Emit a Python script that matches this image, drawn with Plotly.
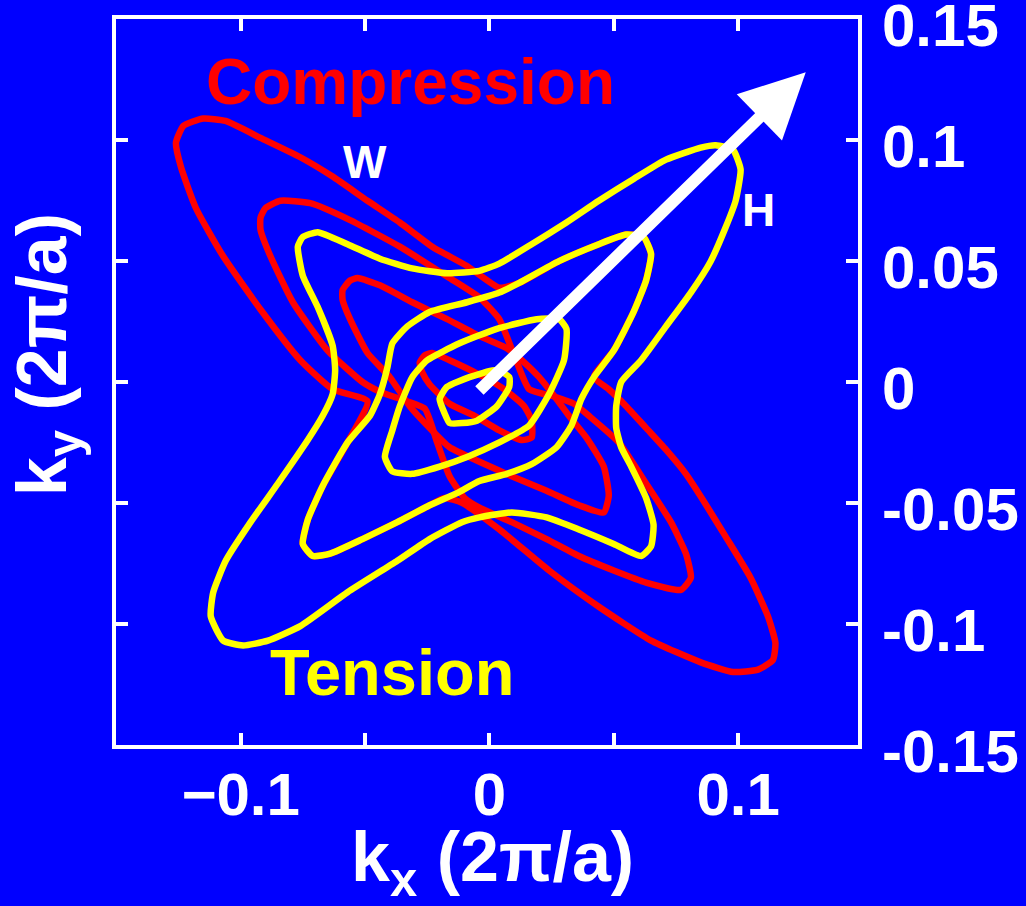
import plotly.graph_objects as go

# ---------------- data (kx, ky in units of 2*pi/a) ----------------
# Compression contours (red), outermost to innermost
comp3_kx = [-0.126,-0.123,-0.115,-0.106,-0.092,-0.076,-0.063,-0.049,-0.036,-0.023,-0.009,0.004,0.012,0.028,0.044,0.055,0.062,0.065,0.063,0.058,0.050,0.042,0.048,0.055,0.063,0.071,0.079,0.086,0.095,0.105,0.112,0.115,0.114,0.108,0.098,0.085,0.065,0.044,0.024,0.004,-0.011,-0.018,-0.024,-0.037,-0.051,-0.064,-0.071,-0.075,-0.073,-0.067,-0.057,-0.049,-0.063,-0.076,-0.092,-0.107,-0.118,-0.124]
comp3_ky = [0.099,0.106,0.109,0.108,0.101,0.093,0.085,0.075,0.066,0.056,0.048,0.039,0.041,0.050,0.057,0.061,0.060,0.053,0.042,0.029,0.013,0.002,-0.003,-0.010,-0.019,-0.028,-0.038,-0.049,-0.064,-0.081,-0.097,-0.108,-0.115,-0.119,-0.120,-0.116,-0.107,-0.093,-0.078,-0.061,-0.050,-0.048,-0.051,-0.058,-0.065,-0.071,-0.072,-0.067,-0.057,-0.043,-0.025,-0.008,-0.003,0.009,0.030,0.052,0.072,0.089]

comp2_kx = [-0.092,-0.090,-0.084,-0.072,-0.056,-0.036,-0.016,-0.004,0.004,0.010,0.016,0.026,0.034,0.040,0.052,0.063,0.073,0.079,0.081,0.077,0.063,0.050,0.036,0.023,0.009,-0.004,-0.010,-0.016,-0.021,-0.026,-0.036,-0.044,-0.051,-0.065,-0.079,-0.088,-0.092]
comp2_ky = [0.068,0.072,0.075,0.074,0.067,0.056,0.043,0.035,0.026,0.011,-0.003,-0.006,-0.009,-0.014,-0.025,-0.042,-0.058,-0.071,-0.081,-0.086,-0.083,-0.078,-0.072,-0.065,-0.058,-0.052,-0.048,-0.039,-0.025,-0.011,-0.007,-0.004,0.000,0.013,0.033,0.052,0.063]

comp1_kx = [-0.059,-0.056,-0.053,-0.044,-0.031,-0.017,-0.004,0.007,0.013,0.020,0.027,0.032,0.039,0.046,0.048,0.046,0.036,0.023,0.009,-0.004,-0.016,-0.024,-0.032,-0.040,-0.049,-0.056,-0.059]
comp1_ky = [0.038,0.042,0.043,0.040,0.033,0.026,0.019,0.014,0.009,0.002,-0.007,-0.014,-0.023,-0.035,-0.047,-0.054,-0.051,-0.045,-0.039,-0.033,-0.027,-0.019,-0.010,0.002,0.012,0.026,0.034]

comp0_kx = [-0.028,-0.026,-0.023,-0.016,-0.004,0.006,0.014,0.017,0.017,0.013,0.004,-0.006,-0.016,-0.024,-0.027]
comp0_ky = [0.008,0.011,0.012,0.009,0.003,-0.003,-0.010,-0.016,-0.023,-0.024,-0.020,-0.014,-0.009,-0.001,0.004]

# Tension contours (yellow), outermost to innermost
tens3_kx = [-0.077,-0.075,-0.069,-0.057,-0.044,-0.031,-0.017,-0.004,0.004,0.017,0.031,0.044,0.058,0.071,0.085,0.091,0.098,0.101,0.099,0.095,0.089,0.081,0.071,0.061,0.053,0.051,0.051,0.053,0.057,0.063,0.066,0.065,0.061,0.050,0.036,0.023,0.009,-0.004,-0.011,-0.024,-0.037,-0.057,-0.076,-0.089,-0.099,-0.107,-0.112,-0.111,-0.106,-0.096,-0.085,-0.073,-0.067,-0.063,-0.062,-0.063,-0.069,-0.075]
tens3_ky = [0.056,0.060,0.062,0.057,0.051,0.047,0.045,0.046,0.049,0.057,0.066,0.075,0.084,0.092,0.097,0.098,0.096,0.088,0.075,0.064,0.050,0.037,0.023,0.009,0.000,-0.010,-0.019,-0.027,-0.035,-0.048,-0.059,-0.068,-0.072,-0.067,-0.061,-0.056,-0.054,-0.056,-0.058,-0.065,-0.074,-0.087,-0.101,-0.107,-0.109,-0.107,-0.097,-0.087,-0.074,-0.058,-0.042,-0.024,-0.014,-0.005,0.005,0.015,0.031,0.044]

tens2_kx = [0.055,0.062,0.065,0.063,0.058,0.050,0.042,0.037,0.033,0.027,0.017,0.007,-0.004,-0.013,-0.024,-0.037,-0.051,-0.064,-0.071,-0.075,-0.073,-0.067,-0.057,-0.048,-0.044,-0.041,-0.039,-0.033,-0.024,-0.009,0.004,0.012,0.028,0.044]
tens2_ky = [0.061,0.060,0.053,0.042,0.029,0.013,0.002,-0.007,-0.018,-0.027,-0.034,-0.038,-0.041,-0.046,-0.051,-0.058,-0.065,-0.071,-0.072,-0.067,-0.057,-0.043,-0.025,-0.014,-0.005,0.006,0.016,0.023,0.029,0.033,0.037,0.041,0.050,0.057]

tens1_kx = [0.028,0.031,0.030,0.024,0.016,0.004,-0.009,-0.020,-0.031,-0.039,-0.042,-0.039,-0.036,-0.031,-0.025,-0.012,0.003,0.019]
tens1_ky = [0.026,0.022,0.009,-0.005,-0.018,-0.025,-0.031,-0.035,-0.038,-0.037,-0.031,-0.020,-0.010,0.002,0.009,0.016,0.022,0.026]

tens0_kx = [-0.020,-0.017,-0.008,0.003,0.008,0.008,0.003,-0.005,-0.011,-0.016,-0.018]
tens0_ky = [-0.007,-0.002,0.002,0.005,0.002,-0.002,-0.010,-0.016,-0.017,-0.017,-0.013]

# arrow (H direction) tail and tip
arrow_tail = (-0.0046, -0.0041)
arrow_tip = (0.1272, 0.1282)

# axis ticks
x_tickvals = [-0.1, -0.05, 0, 0.05, 0.1]
x_ticktext = ["\u22120.1", "", "0", "", "0.1"]
y_tickvals = [-0.15, -0.1, -0.05, 0, 0.05, 0.1, 0.15]
y_ticktext = ["-0.15", "-0.1", "-0.05", "0", "0.05", "0.1", "0.15"]

RED = "#FF0000"
YELLOW = "#FFFF00"
BLUE = "#0000FF"
WHITE = "#FFFFFF"
FONT = "Liberation Sans, Arial, sans-serif"

fig = go.Figure()

def add_contour(kx, ky, color):
    fig.add_trace(go.Scatter(
        x=list(kx) + [kx[0]], y=list(ky) + [ky[0]],
        mode="lines", line=dict(color=color, width=6.5, shape="spline", smoothing=0.5),
        hoverinfo="skip", showlegend=False))

for kx, ky in [(comp3_kx, comp3_ky), (comp2_kx, comp2_ky), (comp1_kx, comp1_ky), (comp0_kx, comp0_ky)]:
    add_contour(kx, ky, RED)
for kx, ky in [(tens3_kx, tens3_ky), (tens2_kx, tens2_ky), (tens1_kx, tens1_ky), (tens0_kx, tens0_ky)]:
    add_contour(kx, ky, YELLOW)

axis_common = dict(
    showgrid=False, zeroline=False, showline=True, linecolor=WHITE, linewidth=4,
    mirror="ticks", ticks="inside", ticklen=12, tickwidth=4, tickcolor=WHITE,
    automargin=False, ticklabeloverflow="allow",
    tickfont=dict(family=FONT, size=60, color=WHITE, weight="bold"),
)

fig.update_layout(
    width=1026, height=906,
    margin=dict(l=116, r=168, t=19, b=161, autoexpand=False),
    paper_bgcolor=BLUE, plot_bgcolor=BLUE,
    xaxis=dict(range=[-0.1501, 0.1482], tickmode="array", tickvals=x_tickvals,
               ticktext=x_ticktext, ticklabelstandoff=-6, **axis_common),
    yaxis=dict(range=[-0.1502, 0.1502], side="right", tickmode="array",
               tickvals=y_tickvals, ticktext=y_ticktext, ticklabelstandoff=8,
               ticklabelshift=6, **axis_common),
    showlegend=False,
)

annotations = [
    dict(x=arrow_tip[0], y=arrow_tip[1], ax=arrow_tail[0], ay=arrow_tail[1],
         xref="x", yref="y", axref="x", ayref="y", text="", showarrow=True,
         arrowhead=2, arrowsize=1.08, arrowwidth=12, arrowcolor=WHITE, standoff=0),
    dict(x=-0.0316, y=0.124, xref="x", yref="y", text="Compression", showarrow=False,
         font=dict(family=FONT, size=64, color=RED, weight="bold")),
    dict(x=-0.039, y=-0.120, xref="x", yref="y", text="Tension", showarrow=False,
         font=dict(family=FONT, size=65, color=YELLOW, weight="bold")),
    dict(x=-0.050, y=0.091, xref="x", yref="y", text="W", showarrow=False,
         font=dict(family=FONT, size=46, color=WHITE, weight="bold")),
    dict(x=0.108, y=0.071, xref="x", yref="y", text="H", showarrow=False,
         font=dict(family=FONT, size=46, color=WHITE, weight="bold")),
    dict(x=0.508, y=-0.161, xref="paper", yref="paper", text="k<sub>x</sub> (2π/a)",
         showarrow=False, xanchor="center", yanchor="middle",
         font=dict(family=FONT, size=70, color=WHITE, weight="bold")),
    dict(x=-0.092, y=0.538, xref="paper", yref="paper", text="k<sub>y</sub> (2π/a)",
         showarrow=False, textangle=-90, xanchor="center", yanchor="middle",
         font=dict(family=FONT, size=70, color=WHITE, weight="bold")),
]
fig.update_layout(annotations=annotations)

fig.write_html("out.html")
